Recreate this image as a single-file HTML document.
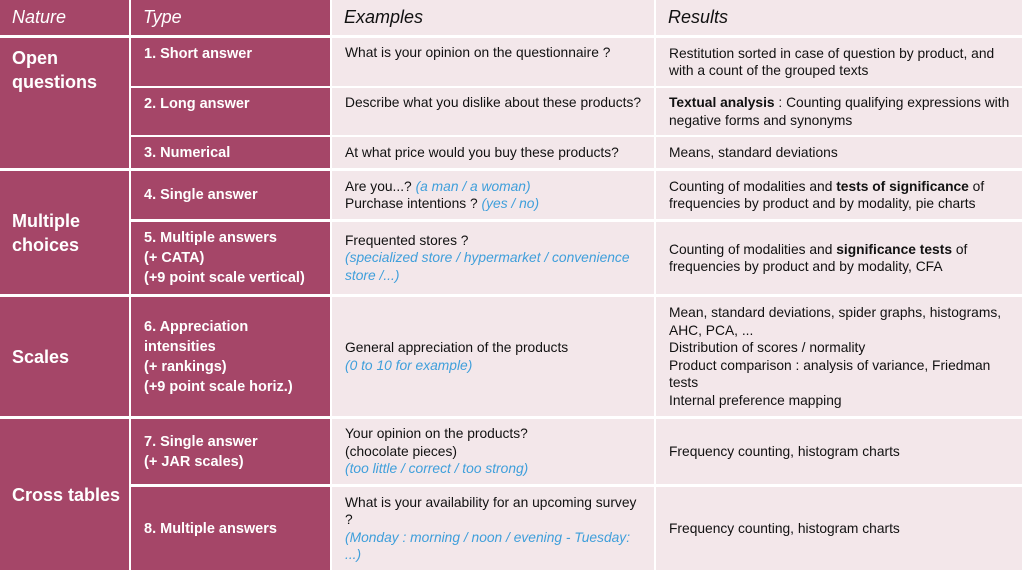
<!DOCTYPE html>
<html><head><meta charset="utf-8"><style>
body{margin:0;width:1022px;height:570px;background:#fff;overflow:hidden;font-family:"Liberation Sans",sans-serif;}
.c{position:absolute;box-sizing:border-box;display:flex;align-items:center;}
.m{background:#a54668;color:#fff;}
.l{background:#f3e7ea;color:#111;font-size:13.8px;line-height:17.5px;padding-left:13px;white-space:nowrap;overflow:hidden;}
.h{font-style:italic;font-size:18px;padding-left:12px;}
.n{font-weight:bold;font-size:18px;line-height:24px;padding-left:12px;}
.t{font-weight:bold;font-size:14.5px;line-height:20px;padding-left:13px;}
.b{color:#3f9fdb;font-style:italic;}
</style></head><body>
<div class="c m h" style="left:0;top:0;width:129px;height:35px">Nature</div>
<div class="c m h" style="left:131px;top:0;width:199px;height:35px">Type</div>
<div class="c l h" style="left:332px;top:0;width:322px;height:35px;font-size:18px">Examples</div>
<div class="c l h" style="left:656px;top:0;width:366px;height:35px;font-size:18px">Results</div>

<div class="c m n" style="left:0;top:38px;width:129px;height:130px;align-items:flex-start;padding-top:8px">Open<br>questions</div>
<div class="c m n" style="left:0;top:171px;width:129px;height:123px">Multiple<br>choices</div>
<div class="c m n" style="left:0;top:297px;width:129px;height:119px">Scales</div>
<div class="c m n" style="left:0;top:419px;width:129px;height:151px">Cross tables</div>

<div class="c m t" style="left:131px;top:38px;width:199px;height:48px;align-items:flex-start;padding-top:6px">1. Short answer</div>
<div class="c m t" style="left:131px;top:88px;width:199px;height:47px;align-items:flex-start;padding-top:6px">2. Long answer</div>
<div class="c m t" style="left:131px;top:137px;width:199px;height:31px">3. Numerical</div>
<div class="c m t" style="left:131px;top:171px;width:199px;height:48px">4. Single answer</div>
<div class="c m t" style="left:131px;top:222px;width:199px;height:72px">5. Multiple answers<br>(+ CATA)<br>(+9 point scale vertical)</div>
<div class="c m t" style="left:131px;top:297px;width:199px;height:119px">6. Appreciation<br>intensities<br>(+ rankings)<br>(+9 point scale horiz.)</div>
<div class="c m t" style="left:131px;top:419px;width:199px;height:65px">7. Single answer<br>(+ JAR scales)</div>
<div class="c m t" style="left:131px;top:487px;width:199px;height:83px">8. Multiple answers</div>

<div class="c l" style="left:332px;top:38px;width:322px;height:48px;align-items:flex-start;padding-top:6px">What is your opinion on the questionnaire ?</div>
<div class="c l" style="left:332px;top:88px;width:322px;height:47px;align-items:flex-start;padding-top:6px">Describe what you dislike about these products?</div>
<div class="c l" style="left:332px;top:137px;width:322px;height:31px">At what price would you buy these products?</div>
<div class="c l" style="left:332px;top:171px;width:322px;height:48px"><div>Are you...? <span class="b">(a man / a woman)</span><br>Purchase intentions ? <span class="b">(yes / no)</span></div></div>
<div class="c l" style="left:332px;top:222px;width:322px;height:72px"><div>Frequented stores ?<br><span class="b">(specialized store / hypermarket / convenience<br>store /...)</span></div></div>
<div class="c l" style="left:332px;top:297px;width:322px;height:119px"><div>General appreciation of the products<br><span class="b">(0 to 10 for example)</span></div></div>
<div class="c l" style="left:332px;top:419px;width:322px;height:65px"><div>Your opinion on the products?<br>(chocolate pieces)<br><span class="b">(too little / correct / too strong)</span></div></div>
<div class="c l" style="left:332px;top:487px;width:322px;height:83px"><div>What is your availability for an upcoming survey<br>?<br><span class="b">(Monday : morning / noon / evening - Tuesday:<br>...)</span></div></div>

<div class="c l" style="left:656px;top:38px;width:366px;height:48px"><div>Restitution sorted in case of question by product, and<br>with a count of the grouped texts</div></div>
<div class="c l" style="left:656px;top:88px;width:366px;height:47px"><div><b>Textual analysis</b> : Counting qualifying expressions with<br>negative forms and synonyms</div></div>
<div class="c l" style="left:656px;top:137px;width:366px;height:31px">Means, standard deviations</div>
<div class="c l" style="left:656px;top:171px;width:366px;height:48px"><div>Counting of modalities and <b>tests of significance</b> of<br>frequencies by product and by modality, pie charts</div></div>
<div class="c l" style="left:656px;top:222px;width:366px;height:72px"><div>Counting of modalities and <b>significance tests</b> of<br>frequencies by product and by modality, CFA</div></div>
<div class="c l" style="left:656px;top:297px;width:366px;height:119px"><div>Mean, standard deviations, spider graphs, histograms,<br>AHC, PCA, ...<br>Distribution of scores / normality<br>Product comparison : analysis of variance, Friedman<br>tests<br>Internal preference mapping</div></div>
<div class="c l" style="left:656px;top:419px;width:366px;height:65px">Frequency counting, histogram charts</div>
<div class="c l" style="left:656px;top:487px;width:366px;height:83px">Frequency counting, histogram charts</div>
</body></html>
